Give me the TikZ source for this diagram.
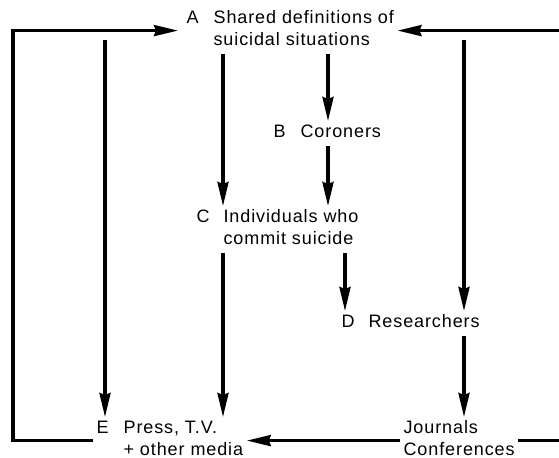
\documentclass[tikz,border=0pt]{standalone}
\usepackage{fontspec}
\setmainfont{Liberation Sans}[LetterSpace=5]
\usetikzlibrary{arrows.meta}

\begin{document}
\begin{tikzpicture}[x=0.5pt, y=-0.5pt, line width=1.6pt,
    >={Stealth[length=12pt, width=5.5pt, inset=1pt]},
    item/.style={anchor=base west, inner xsep=1pt, inner ysep=0pt, font=\fontsize{9}{11}\selectfont}]
  \useasboundingbox (0,0) rectangle (559,458);

  % 1. The lettered boxes of text (letter, then the text in its own column)
  \node[item] (shared) at (183,24)
    {\begin{tabular}[t]{@{}p{13.5pt}@{}l@{}}A & Shared definitions of\\ & suicidal situations\end{tabular}};
  \node[item] (coroners) at (270,138)
    {\begin{tabular}[t]{@{}p{13.5pt}@{}l@{}}B & Coroners\end{tabular}};
  \node[item] (individuals) at (193,223)
    {\begin{tabular}[t]{@{}p{13.5pt}@{}l@{}}C & Individuals who\\ & commit suicide\end{tabular}};
  \node[item] (researchers) at (338,328)
    {\begin{tabular}[t]{@{}p{13.5pt}@{}l@{}}D & Researchers\end{tabular}};
  \node[item] (media) at (93,434)
    {\begin{tabular}[t]{@{}p{13.5pt}@{}l@{}}E & Press, T.V.\\ & + other media\end{tabular}};
  \node[item] (journals) at (400,434)
    {\begin{tabular}[t]{@{}l@{}}Journals\\Conferences\end{tabular}};

  % 2. Columns of the downward arrows, and the two outer edges of the loops
  \coordinate (colE) at (105,40);
  \coordinate (colC) at (223,0);
  \coordinate (colB) at (328,0);
  \coordinate (colD) at (345,0);
  \coordinate (colJ) at (464,40);
  \coordinate (leftside) at (13,0);
  \coordinate (rightside) at (580,0);

  % 3. Downward arrows
  \draw[->] (colE) -- (colE |- media.north);
  \draw[->] (colC |- shared.south) -- (colC |- individuals.north);
  \draw[->] (colC |- individuals.south) -- (colC |- media.north);
  \draw[->] (colB |- shared.south) -- (colB |- coroners.north);
  \draw[->] (colB |- coroners.south) -- (colB |- individuals.north);
  \draw[->] (colD |- individuals.south) -- (colD |- researchers.north);
  \draw[->] (colJ) -- (colJ |- researchers.north);
  \draw[->] (colJ |- researchers.south) -- (colJ |- journals.north);

  % 4. Bottom arrow and the two feedback loops back to A
  \draw[->] (journals.west) -- (media.east);
  \draw[->, shorten >=2.5pt] (media.west) -- (media.west -| leftside) |- (shared.west);
  \draw[->] (journals.east) -- (journals.east -| rightside) |- (shared.east);
\end{tikzpicture}
\end{document}
